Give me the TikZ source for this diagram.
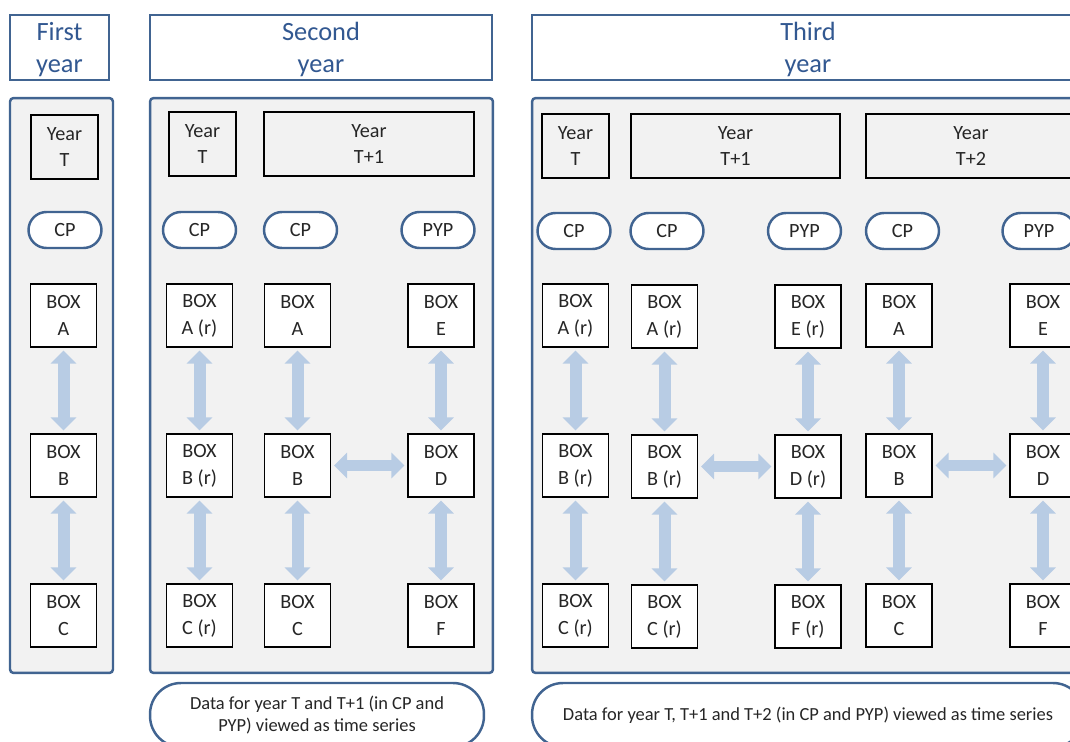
\documentclass[tikz,border=0pt]{standalone}
\usepackage{fontspec}
\setmainfont{Carlito}
\usetikzlibrary{positioning, arrows.meta}

\definecolor{frameblue}{RGB}{65,100,145}
\definecolor{headblue}{RGB}{50,88,145}
\definecolor{panelgray}{RGB}{242,242,242}
\definecolor{linkblue}{RGB}{184,204,228}

\begin{document}
\begin{tikzpicture}[
    x=0.02cm, y=-0.02cm,
    yearhead/.style={rectangle, draw=frameblue, line width=1.4pt, fill=white, minimum height=1.3cm,
                     align=center, text=headblue, font=\fontsize{15}{18.7}\selectfont, inner sep=0pt,
                     text height=32.8pt, text depth=3.8pt},
    panel/.style={rectangle, draw=frameblue, line width=1.4pt, fill=panelgray, minimum height=11.5cm,
                  rounded corners=2pt},
    yearbox/.style={rectangle, draw=black, line width=1.1pt, fill=panelgray, minimum height=1.28cm,
                    align=center, font=\fontsize{11.5}{14.5}\selectfont, inner sep=0pt, text=black!85},
    pill/.style={rectangle, draw=frameblue, line width=1.4pt, fill=white, rounded corners=0.36cm,
                 minimum width=1.46cm, minimum height=0.72cm, font=\fontsize{11.5}{14.5}\selectfont,
                 text=black!85},
    databox/.style={rectangle, draw=black, line width=1.1pt, fill=white, minimum width=1.32cm,
                    minimum height=1.26cm, align=center, font=\fontsize{11.5}{15.5}\selectfont, inner sep=0pt,
                    text=black!85},
    link/.style={line width=0.24cm, draw=linkblue, >={Triangle[length=0.26cm, width=0.5cm]}, <->,
                 shorten <=1.5pt, shorten >=1.5pt},
    note/.style={rectangle, draw=frameblue, line width=1.4pt, fill=white, rounded corners=0.62cm,
                 minimum height=1.28cm, align=center, font=\fontsize{10.5}{12.5}\selectfont, text=black!85}
]
    \useasboundingbox (0,0) rectangle (1070,742);
    \clip (0,0) rectangle (1070,742);

    % Headers
    \node[yearhead, minimum width=1.98cm] (h1) at (59.5,47.5) {First\\year};
    \node[yearhead, minimum width=6.84cm] (h2) at (321,47.5) {Second\\year};
    \node[yearhead, minimum width=11.04cm] (h3) at (808,47.5) {Third\\year};

    % Panels
    \node[panel, minimum width=2.06cm] (p1) at (61.5,385.5) {};
    \node[panel, minimum width=6.86cm] (p2) at (321.5,385.5) {};
    \node[panel, minimum width=11.04cm] (p3) at (808,385.5) {};

    % === First year ===
    \node[yearbox, minimum width=1.34cm] (f-year) at (64.5,147) {Year\\T};
    \node[pill] (f-cp) at (65,230) {CP};
    \node[databox] (f-a) at (63.5,315.5) {BOX\\A};
    \node[databox] (f-b) at (63.5,465.5) {BOX\\B};
    \node[databox] (f-c) at (63.5,615.5) {BOX\\C};
    \draw[link] (f-a) -- (f-b);
    \draw[link] (f-b) -- (f-c);

    % === Second year ===
    \node[yearbox, minimum width=1.34cm] (s-year0) at (202.5,144) {Year\\T};
    \node[yearbox, minimum width=4.2cm] (s-year1) at (369,144) {Year\\T+1};
    \node[pill] (s-cp0) at (199.5,230) {CP};
    \node[pill] (s-cp1) at (300.5,230) {CP};
    \node[pill] (s-pyp1) at (438,230) {PYP};

    \node[databox] (s-ar) at (199.5,315.5) {BOX\\A (r)};
    \node[databox] (s-br) at (199.5,465.5) {BOX\\B (r)};
    \node[databox] (s-cr) at (199.5,615.5) {BOX\\C (r)};
    \node[databox] (s-a) at (297.5,315.5) {BOX\\A};
    \node[databox] (s-b) at (297.5,465.5) {BOX\\B};
    \node[databox] (s-c) at (297.5,615.5) {BOX\\C};
    \node[databox] (s-e) at (441,315.5) {BOX\\E};
    \node[databox] (s-d) at (441,465.5) {BOX\\D};
    \node[databox] (s-f) at (441,615.5) {BOX\\F};

    \draw[link] (s-ar) -- (s-br);
    \draw[link] (s-br) -- (s-cr);
    \draw[link] (s-a) -- (s-b);
    \draw[link] (s-b) -- (s-c);
    \draw[link] (s-e) -- (s-d);
    \draw[link] (s-d) -- (s-f);
    \draw[link] (s-b) -- (s-d);

    % === Third year ===
    \node[yearbox, minimum width=1.34cm] (t-year0) at (575.5,146) {Year\\T};
    \node[yearbox, minimum width=4.18cm] (t-year1) at (735.5,146) {Year\\T+1};
    \node[yearbox, minimum width=4.2cm] (t-year2) at (971,146) {Year\\T+2};
    \node[pill] (t-cp0) at (574,231) {CP};
    \node[pill] (t-cp1) at (667,231) {CP};
    \node[pill] (t-pyp1) at (804.5,231) {PYP};
    \node[pill] (t-cp2) at (902.5,231) {CP};
    \node[pill] (t-pyp2) at (1039,231) {PYP};

    \node[databox] (t-ar0) at (575.5,315.5) {BOX\\A (r)};
    \node[databox] (t-br0) at (575.5,465.5) {BOX\\B (r)};
    \node[databox] (t-cr0) at (575.5,615.5) {BOX\\C (r)};
    \node[databox] (t-ar1) at (664.5,316.5) {BOX\\A (r)};
    \node[databox] (t-br1) at (664.5,466.5) {BOX\\B (r)};
    \node[databox] (t-cr1) at (664.5,616.5) {BOX\\C (r)};
    \node[databox] (t-er1) at (808,316.5) {BOX\\E (r)};
    \node[databox] (t-dr1) at (808,466.5) {BOX\\D (r)};
    \node[databox] (t-fr1) at (808,616.5) {BOX\\F (r)};
    \node[databox] (t-a) at (899,315.5) {BOX\\A};
    \node[databox] (t-b) at (899,465.5) {BOX\\B};
    \node[databox] (t-c) at (899,615.5) {BOX\\C};
    \node[databox] (t-e) at (1043,315.5) {BOX\\E};
    \node[databox] (t-d) at (1043,465.5) {BOX\\D};
    \node[databox] (t-f) at (1043,615.5) {BOX\\F};

    \draw[link] (t-ar0) -- (t-br0);
    \draw[link] (t-br0) -- (t-cr0);
    \draw[link] (t-ar1) -- (t-br1);
    \draw[link] (t-br1) -- (t-cr1);
    \draw[link] (t-er1) -- (t-dr1);
    \draw[link] (t-dr1) -- (t-fr1);
    \draw[link] (t-a) -- (t-b);
    \draw[link] (t-b) -- (t-c);
    \draw[link] (t-e) -- (t-d);
    \draw[link] (t-d) -- (t-f);
    \draw[link] (t-br1) -- (t-dr1);
    \draw[link] (t-b) -- (t-d);

    % Notes
    \node[note, minimum width=6.68cm] (n2) at (317,715) {Data for year T and T+1 (in CP and\\PYP) viewed as time series};
    \node[note, minimum width=11.04cm] (n3) at (808,715) {Data for year T, T+1 and T+2 (in CP and PYP) viewed as time series};

\end{tikzpicture}
\end{document}
